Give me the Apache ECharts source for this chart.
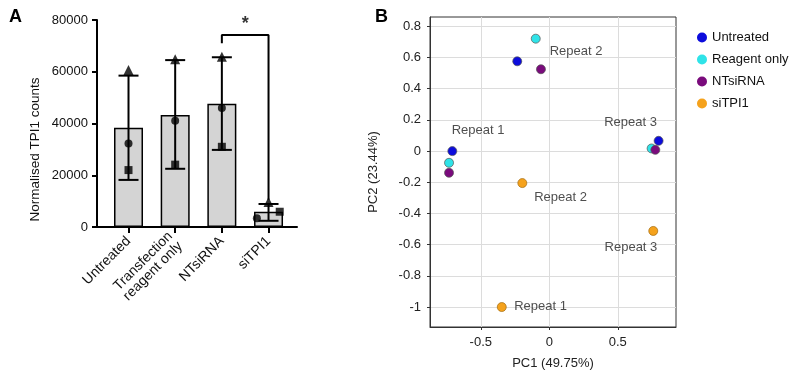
<!DOCTYPE html>
<html><head><meta charset="utf-8">
<script src="https://cdn.jsdelivr.net/npm/echarts@6/dist/echarts.min.js"></script>
<style>html,body{margin:0;padding:0;background:#fff}#c{width:794px;height:375px}</style>
</head><body><div id="c"></div>
<script>
// ---------- Panel A data ----------
const categories = ['Untreated', 'Transfection\nreagent only', 'NTsiRNA', 'siTPI1'];
const categoryPos = [1, 2, 3, 4];
const barMeans = [38400, 43300, 47650, 5900];
const errLow = [18200, 22500, 29800, 2400];
const errHigh = [58500, 64500, 65600, 8900];
const triangleValues = [60700, 64800, 65800, 9700];
const triangleX = [1, 2, 3, 4];
const circleValues = [32300, 41100, 46000, 3400];
const circleX = [1, 2, 3, 3.75];
const squareValues = [22000, 24100, 31000, 5900];
const squareX = [1, 2, 3, 4.24];
const yTicksA = [0, 20000, 40000, 60000, 80000];
const bracket = [[3, 71000], [3, 74200], [4, 74200], [4, 10500]];
const starPoint = [[3.5, 78400]];

// ---------- Panel B data ----------
const groupNames = ['Untreated', 'Reagent only', 'NTsiRNA', 'siTPI1'];
const untreatedPC = [[-0.708, 0.0], [-0.234, 0.576], [0.798, 0.066]];
const reagentPC = [[-0.732, -0.075], [-0.099, 0.721], [0.747, 0.017]];
const ntsiPC = [[-0.732, -0.139], [-0.061, 0.525], [0.774, 0.008]];
const sitpiPC = [[-0.347, -1.0], [-0.197, -0.205], [0.759, -0.512]];
const repeatLabels = [
  ['Repeat 1', -0.52, 0.13], ['Repeat 2', 0.195, 0.64], ['Repeat 3', 0.593, 0.186],
  ['Repeat 2', 0.082, -0.299], ['Repeat 3', 0.596, -0.619], ['Repeat 1', -0.064, -0.997]
];
const xTicksB = [-0.5, 0, 0.5];
const yTicksB = [-1, -0.8, -0.6, -0.4, -0.2, 0, 0.2, 0.4, 0.6, 0.8];
const groupColors = ['#0c0cdc', '#2fe3e8', '#7a0b7c', '#f5a21c'];

const FONT = '"Liberation Sans", Arial, sans-serif';
const chart = echarts.init(document.getElementById('c'), null, {renderer: 'canvas'});

const pair = (xs, ys) => xs.map((x, i) => [x, ys[i]]);

const option = {
  animation: false,
  textStyle: {fontFamily: FONT},
  title: [
    {text: 'A', left: 4, top: 3, textStyle: {fontSize: 18, fontWeight: 'bold', color: '#000', fontFamily: FONT}},
    {text: 'B', left: 370, top: 3, textStyle: {fontSize: 18, fontWeight: 'bold', color: '#000', fontFamily: FONT}}
  ],
  legend: {
    data: groupNames, orient: 'vertical', left: 692, top: 26, icon: 'circle',
    itemWidth: 10, itemHeight: 10, itemGap: 9,
    itemStyle: {borderWidth: 0},
    textStyle: {fontSize: 13, color: '#111', fontFamily: FONT}
  },
  grid: [
    {left: 97, top: 20, width: 200, height: 207},
    {left: 430, top: 17, width: 246, height: 310, show: true, borderColor: '#333', borderWidth: 1, backgroundColor: 'transparent'}
  ],
  xAxis: [
    {
      gridIndex: 0, type: 'value', min: 0.325, max: 4.61,
      axisLine: {show: true, onZero: false, lineStyle: {color: '#000', width: 2}},
      axisTick: {show: true, customValues: categoryPos, length: 6, lineStyle: {color: '#000', width: 2}},
      axisLabel: {customValues: categoryPos, rotate: 45, fontSize: 14, color: '#111', margin: 12,
        formatter: v => categories[Math.round(v) - 1] || ''},
      splitLine: {show: false}
    },
    {
      gridIndex: 1, type: 'value', min: -0.871, max: 0.925,
      name: 'PC1 (49.75%)', nameLocation: 'middle', nameGap: 30,
      nameTextStyle: {fontSize: 13, color: '#222'},
      axisLine: {show: true, onZero: false, lineStyle: {color: '#333', width: 1}},
      axisTick: {show: true, customValues: xTicksB, length: 3, lineStyle: {color: '#333'}},
      axisLabel: {customValues: xTicksB, fontSize: 13, color: '#222', margin: 9},
      splitLine: {show: true, lineStyle: {color: '#dcdcdc', width: 1}}
    }
  ],
  yAxis: [
    {
      gridIndex: 0, type: 'value', min: 0, max: 80000, interval: 20000,
      name: 'Normalised TPI1 counts', nameLocation: 'middle', nameGap: 55,
      nameTextStyle: {fontSize: 13.5, color: '#111', padding: [0, 52, 0, 0]},
      axisLine: {show: true, lineStyle: {color: '#000', width: 2}},
      axisTick: {show: true, length: 5, lineStyle: {color: '#000', width: 2}},
      axisLabel: {fontSize: 13, color: '#111', margin: 9, formatter: v => String(v)},
      splitLine: {show: false}
    },
    {
      gridIndex: 1, type: 'value', min: -1.128, max: 0.86,
      name: 'PC2 (23.44%)', nameLocation: 'middle', nameGap: 50,
      nameTextStyle: {fontSize: 13, color: '#222'},
      axisLine: {show: true, onZero: false, lineStyle: {color: '#333', width: 1}},
      axisTick: {show: true, customValues: yTicksB, length: 3, lineStyle: {color: '#333'}},
      axisLabel: {customValues: yTicksB, fontSize: 13, color: '#222', margin: 9},
      splitLine: {show: true, lineStyle: {color: '#dcdcdc', width: 1}}
    }
  ],
  series: [
    {
      type: 'bar', name: 'means', xAxisIndex: 0, yAxisIndex: 0, barWidth: 29,
      data: pair(categoryPos, barMeans),
      itemStyle: {color: '#d4d4d4', borderColor: '#000', borderWidth: 1.5}, z: 2
    },
    {
      type: 'custom', name: 'err', xAxisIndex: 0, yAxisIndex: 0,
      data: categoryPos.map((x, i) => [x, errLow[i], errHigh[i]]),
      encode: {x: 0, y: [1, 2]}, z: 3,
      renderItem: (params, api) => {
        const x = api.value(0);
        const lo = api.coord([x, api.value(1)]);
        const hi = api.coord([x, api.value(2)]);
        const hw = 10;
        const st = {stroke: '#000', lineWidth: 2};
        return {type: 'group', children: [
          {type: 'line', shape: {x1: lo[0], y1: lo[1], x2: hi[0], y2: hi[1]}, style: st},
          {type: 'line', shape: {x1: lo[0] - hw, y1: lo[1], x2: lo[0] + hw, y2: lo[1]}, style: st},
          {type: 'line', shape: {x1: hi[0] - hw, y1: hi[1], x2: hi[0] + hw, y2: hi[1]}, style: st}
        ]};
      }
    },
    {type: 'scatter', name: 'tri', xAxisIndex: 0, yAxisIndex: 0, symbol: 'triangle', symbolSize: 10,
      data: pair(triangleX, triangleValues), itemStyle: {color: '#000'}, z: 4},
    {type: 'scatter', name: 'circ', xAxisIndex: 0, yAxisIndex: 0, symbol: 'circle', symbolSize: 8,
      data: pair(circleX, circleValues), itemStyle: {color: '#000'}, z: 4},
    {type: 'scatter', name: 'sq', xAxisIndex: 0, yAxisIndex: 0, symbol: 'rect', symbolSize: 8,
      data: pair(squareX, squareValues), itemStyle: {color: '#000'}, z: 4},
    {type: 'line', name: 'bracket', xAxisIndex: 0, yAxisIndex: 0, data: bracket, showSymbol: false,
      symbol: 'none', lineStyle: {color: '#000', width: 2}, z: 3},
    {type: 'scatter', name: 'star', xAxisIndex: 0, yAxisIndex: 0, data: starPoint, symbolSize: 0,
      label: {show: true, formatter: '*', position: 'inside', fontSize: 18, fontWeight: 'bold', color: '#000'}},
    // Panel B
    ...[untreatedPC, reagentPC, ntsiPC, sitpiPC].map((d, i) => ({
      type: 'scatter', name: groupNames[i], xAxisIndex: 1, yAxisIndex: 1, data: d,
      symbol: 'circle', symbolSize: 9,
      itemStyle: {color: groupColors[i], borderColor: i === 3 ? '#a06a10' : '#555', borderWidth: 0.7, opacity: 1}, z: 5
    })),
    {
      type: 'scatter', name: 'repeats', xAxisIndex: 1, yAxisIndex: 1, symbolSize: 0,
      data: repeatLabels.map(r => ({value: [r[1], r[2]], name: r[0]})),
      label: {show: true, position: 'inside', formatter: p => p.name, fontSize: 13, color: '#222'}, z: 6
    }
  ]
};
chart.setOption(option);
</script>
</body></html>
